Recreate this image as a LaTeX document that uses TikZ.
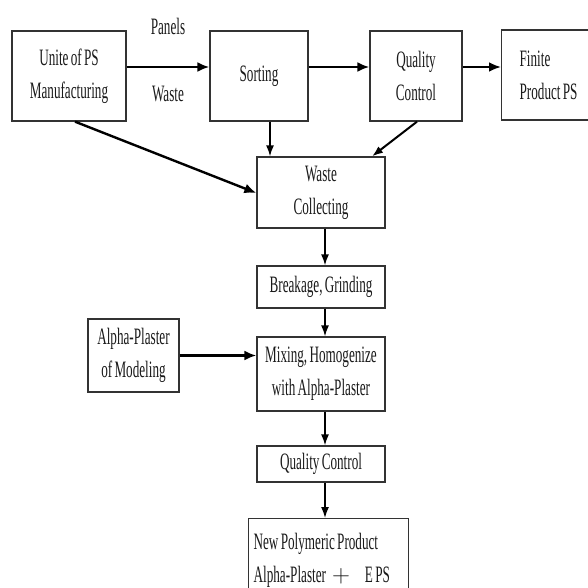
\documentclass[tikz,border=0pt]{standalone}
\usepackage{fontspec}
\setmainfont{Liberation Serif}[FakeStretch=0.56, WordSpace=0.7]
\usepackage{tikz}
\usetikzlibrary{arrows.meta, positioning, calc}
\definecolor{BoxLine}{HTML}{333333}
\definecolor{InkText}{HTML}{1A1A1A}

\begin{document}
\begin{tikzpicture}[
            x=1pt, y=-1pt,
            font=\fontsize{23.5}{33}\selectfont,
            >={Latex[length=11pt,width=9pt]},
            box/.style={
                rectangle, draw=BoxLine, line width=1.3pt,
                text=InkText, align=center, inner sep=2pt
            },
            leftbox/.style={box, align=flush left, inner xsep=0pt},
            line/.style={draw, line width=1.5pt, -{Latex[length=11pt,width=8pt]}},
            thickline/.style={draw, line width=2.6pt, -{Latex[length=12pt,width=10pt]}},
            note/.style={text=InkText}
        ]
        \useasboundingbox (0,0) rectangle (588,588);
        \clip (0,0) rectangle (588,588);

        % --- Top row: manufacturing line ---
        \node[box, minimum width=114pt, minimum height=90pt] (unit) at (69,76) {Unite of PS\\Manufacturing};
        \node[box, minimum width=98pt, minimum height=90pt] (sort) at (259,76) {Sorting};
        \node[box, minimum width=92pt, minimum height=90pt] (qctop) at (416,76) {Quality\\Control};
        \node[leftbox, anchor=west, minimum width=100pt, minimum height=90pt, text width=64pt, inner xsep=18pt] (finite) at (501,75) {Finite\\Product PS};

        % --- Recycling column ---
        \node[box, minimum width=128pt, minimum height=71pt] (collect) at (321,192.5) {Waste\\Collecting};
        \node[box, minimum width=128pt, minimum height=42pt] (grind) at (321,287) {Breakage, Grinding};
        \node[box, minimum width=128pt, minimum height=74pt] (mix) at (321,374) {Mixing, Homogenize\\with Alpha-Plaster};
        \node[box, minimum width=91pt, minimum height=73pt] (plaster) at (133.5,355.5) {Alpha-Plaster\\of Modeling};
        \node[box, minimum width=128pt, minimum height=36pt] (qcbot) at (321,464) {Quality Control};
        \node[leftbox, anchor=north west, minimum width=155pt, minimum height=84pt, text width=150pt, inner xsep=5pt] (newprod) at (248,518) {New Polymeric Product\\Alpha-Plaster\hspace{6pt}{\fontspec{Liberation Serif}$+$}\hspace{15pt}E PS};

        % --- Labels on the first arrow ---
        \node[note] (panels) at (168,26) {Panels};
        \node[note] (waste) at (168,94) {Waste};

        % --- Flows ---
        \path[thickline] ([yshift=9pt]unit.east) -- ([yshift=9pt]sort.west);
        \path[thickline] ([yshift=9pt]sort.east) -- ([yshift=9pt]qctop.west);
        \path[thickline] ([yshift=9pt]qctop.east) -- ([yshift=8pt]finite.west);

        \path[line] ([xshift=11pt]sort.south) -- ([xshift=11pt]sort.south |- collect.north);
        \path[line, line width=2pt] ([xshift=1pt]qctop.south) -- ([xshift=51pt]collect.north);
        \path[thickline, line width=2.4pt] ([xshift=6pt]unit.south) -- ([yshift=-0.5pt]collect.west);

        \path[line] ([xshift=4pt]collect.south) -- ([xshift=4pt]collect.south |- grind.north);
        \path[line] ([xshift=4pt]grind.south) -- ([xshift=4pt]grind.south |- mix.north);
        \path[thickline] (plaster.east) -- (plaster.east -| mix.west);
        \path[line] ([xshift=4pt]mix.south) -- ([xshift=4pt]mix.south |- qcbot.north);
        \path[line] ([xshift=4pt]qcbot.south) -- ([xshift=4pt]qcbot.south |- newprod.north);

        \end{tikzpicture}
\end{document}
